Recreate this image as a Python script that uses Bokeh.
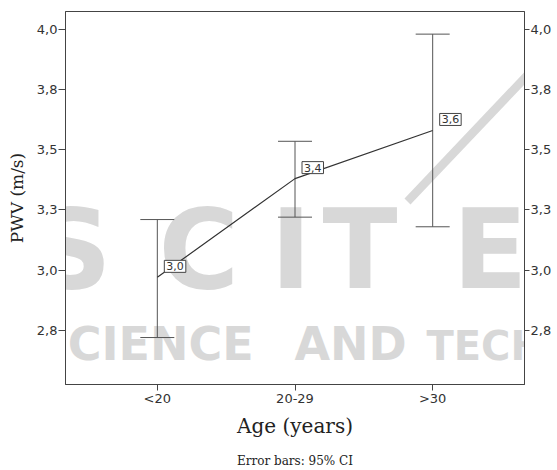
from bokeh.plotting import figure
from bokeh.models import (ColumnDataSource, Range1d, FixedTicker, LinearAxis, Whisker,
                          TeeHead, Label, PolyAnnotation)
from bokeh.embed import file_html
from bokeh.resources import INLINE

# ---- data ----
groups = ["<20", "20-29", ">30"]
means = [2.97, 3.38, 3.58]
ci_low = [2.72, 3.22, 3.18]
ci_high = [3.21, 3.535, 3.98]
mean_labels = ["3,0", "3,4", "3,6"]
y_ticks = [2.75, 3.0, 3.25, 3.5, 3.75, 4.0]
y_tick_labels = ["2,8", "3,0", "3,3", "3,5", "3,8", "4,0"]

xpos = list(range(len(groups)))
src = ColumnDataSource(dict(x=xpos, mean=means, lo=ci_low, hi=ci_high, lab=mean_labels))

p = figure(width=557, height=470, output_backend="svg", toolbar_location=None,
           x_range=Range1d(-0.667, 2.667), y_range=Range1d(2.525, 4.074),
           min_border_left=65, min_border_right=33, min_border_top=11, min_border_bottom=84)
p.grid.visible = False
p.outline_line_color = "#444444"
p.background_fill_color = "white"
p.border_fill_color = "white"

# ---- publisher watermark (background decoration, frame-relative screen units) ----
WM = "#d8d8d8"
for t, xs in zip(["S", "C", "I", "T", "E"], [-33, 93, 205, 257, 387]):
    p.add_layout(Label(x=xs, y=135, x_units="screen", y_units="screen", text=t,
                       text_font="DejaVu Sans", text_font_style="bold", text_baseline="alphabetic",
                       text_font_size="110px", text_color=WM, level="underlay"))
for t, xs, fs, yy in zip(["SCIENCE", "AND", "TECH"], [-31, 229, 361], ["46px", "46px", "40px"], [41, 41, 39]):
    p.add_layout(Label(x=xs, y=yy, x_units="screen", y_units="screen", text=t,
                       text_font="DejaVu Sans", text_font_style="bold", text_baseline="alphabetic",
                       text_font_size=fs, text_color=WM, level="underlay"))
p.add_layout(PolyAnnotation(xs=[339, 489, 495, 345], ys=[186, 344, 338, 180],
                            xs_units="screen", ys_units="screen", fill_color=WM, fill_alpha=1,
                            line_color=None, level="underlay"))

# ---- error bars ----
wh = Whisker(base="x", upper="hi", lower="lo", source=src, line_color="#555555", line_width=1,
             upper_head=TeeHead(size=34, line_color="#555555", line_width=1),
             lower_head=TeeHead(size=34, line_color="#555555", line_width=1))
p.add_layout(wh)

p.line("x", "mean", source=src, line_color="#333333", line_width=1.2)

for xi, m, lab in zip(xpos, means, mean_labels):
    p.add_layout(Label(x=xi, y=m, text=lab, x_offset=7, y_offset=5,
                       text_align="left", text_baseline="bottom",
                       text_font="DejaVu Sans", text_font_size="11px", text_color="#333333",
                       background_fill_color="white", border_line_color="#444444", padding=2))

ticker = FixedTicker(ticks=y_ticks)
overrides = {t: l for t, l in zip(y_ticks, y_tick_labels)}

def style_axis(ax, fs="13px"):
    ax.axis_line_color = "#444444"
    ax.major_tick_line_color = "#444444"
    ax.minor_tick_line_color = None
    ax.major_tick_in = 0
    ax.major_tick_out = 6
    ax.major_label_text_font = "DejaVu Sans"
    ax.major_label_text_font_size = fs
    ax.major_label_text_color = "#333333"

ya = p.yaxis[0]
ya.ticker = ticker
ya.major_label_overrides = overrides
style_axis(ya)
ya.major_tick_out = 7
ya.major_label_standoff = 1
ya.axis_label = "PWV (m/s)"
ya.axis_label_text_font = "DejaVu Serif"
ya.axis_label_text_font_style = "normal"
ya.axis_label_text_font_size = "17px"
ya.axis_label_text_color = "#222222"
ya.axis_label_standoff = 7

ra = LinearAxis(ticker=FixedTicker(ticks=y_ticks), major_label_overrides=overrides, axis_label=None)
style_axis(ra, "13px")
ra.major_tick_out = 5
ra.major_label_standoff = 1
ra.axis_label_standoff = 0
p.add_layout(ra, "right")

xa = p.xaxis[0]
xa.ticker = FixedTicker(ticks=xpos)
xa.major_label_overrides = {i: g for i, g in enumerate(groups)}
style_axis(xa)
xa.major_label_standoff = 0
xa.axis_label = "Age (years)"
xa.axis_label_text_font = "DejaVu Serif"
xa.axis_label_text_font_style = "normal"
xa.axis_label_text_font_size = "20px"
xa.axis_label_text_color = "#222222"
xa.axis_label_standoff = 5

# footnote line below the axis title, as a tickless axis label
fa = LinearAxis(ticker=FixedTicker(ticks=[]), axis_label="Error bars: 95% CI")
fa.axis_line_color = None
fa.major_tick_out = 0
fa.major_tick_in = 0
fa.minor_tick_line_color = None
fa.major_label_standoff = 0
fa.axis_label_standoff = 13
fa.axis_label_text_font = "DejaVu Serif"
fa.axis_label_text_font_style = "normal"
fa.axis_label_text_font_size = "12px"
fa.axis_label_text_color = "#222222"
p.add_layout(fa, "below")

open("out.html", "w").write(file_html(p, INLINE))
